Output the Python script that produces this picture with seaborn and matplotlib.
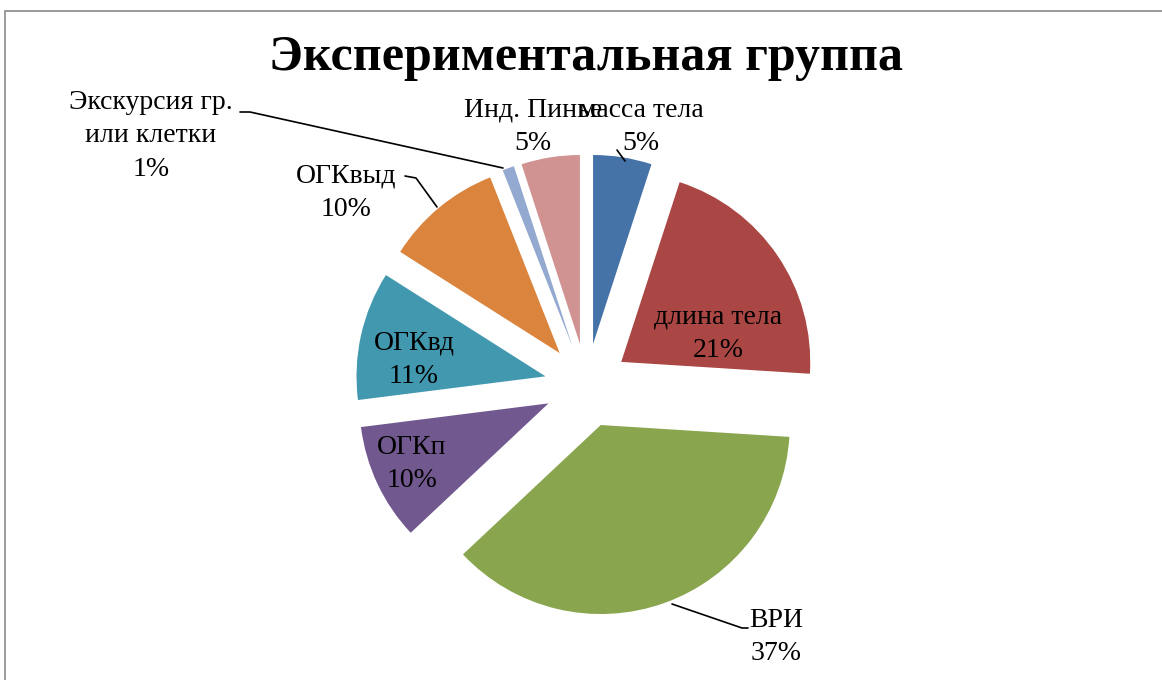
import matplotlib
matplotlib.use('Agg')
import matplotlib.pyplot as plt
import seaborn as sns

sns.set_style('white')
plt.rcParams['font.family'] = ['Liberation Serif', 'DejaVu Serif']
plt.rcParams['text.color'] = 'black'

# Data
categories = ['масса тела', 'длина тела', 'ВРИ', 'ОГКп', 'ОГКвд', 'ОГКвыд',
              'Экскурсия гр.\nили клетки', 'Инд. Пинье']
values = [5, 21, 37, 10, 11, 10, 1, 5]
colors = ['#4572A7', '#AA4643', '#89A54E', '#71588F', '#4198AF', '#DB843D',
          '#93A9CF', '#D19392']

W, H = 1162, 680
fig = plt.figure(figsize=(W / 100, H / 100), dpi=100)
ax = fig.add_axes([0, 0, 1, 1])


def Y(y):
    return H - y


R = 189
ax.pie(values, colors=colors, startangle=90, counterclock=False,
       center=(586.5, Y(385.5)), radius=R, explode=[42] * len(values),
       wedgeprops={'linewidth': 0}, frame=True)
ax.set_xlim(0, W)
ax.set_ylim(0, H)
ax.set_aspect('equal')
ax.axis('off')

# outer frame
ax.add_patch(plt.Rectangle((4.5, -10), W, Y(10.5) + 10, fill=False,
                           edgecolor='#8a8a8a', lw=1.2))

fs = 20
# labels: (text, x, y)
labels = [
    ('масса тела\n5%', 641, 127),
    ('Инд. Пинье\n5%', 533, 127),
    ('длина тела\n21%', 718, 334),
    ('ВРИ\n37%', 776, 637),
    ('ОГКп\n10%', 412, 464),
    ('ОГКвд\n11%', 414, 360),
    ('ОГКвыд\n10%', 346, 193),
    ('Экскурсия гр.\nили клетки\n1%', 151, 136),
]
for txt, x, y in labels:
    ax.text(x, Y(y), txt, ha='center', va='center', fontsize=fs,
            linespacing=1.45, color='black')

# leader lines
leaders = [
    ([617, 625], [150, 161]),
    ([672, 742, 748], [604, 628, 628]),
    ([405, 416, 437], [176, 178, 207]),
    ([240, 250, 503], [112, 112, 168]),
]
for xs, ys in leaders:
    ax.plot(xs, [Y(v) for v in ys], color='black', lw=1.2)

ax.text(586, Y(58), 'Экспериментальная группа', ha='center', va='center',
        fontsize=36, fontweight='bold', color='black')

fig.savefig('out.png', dpi=100)
